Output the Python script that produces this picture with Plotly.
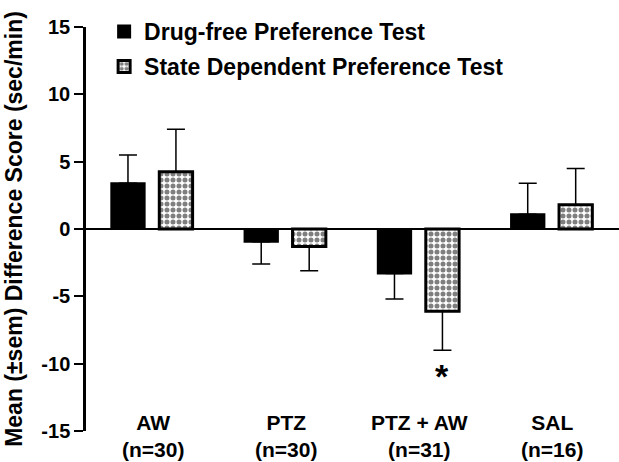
import plotly.graph_objects as go

categories = ["AW", "PTZ", "PTZ + AW", "SAL"]
n_labels = ["(n=30)", "(n=30)", "(n=31)", "(n=16)"]
series_names = ["Drug-free Preference Test", "State Dependent Preference Test"]
drug_free = [3.4, -0.95, -3.3, 1.1]
drug_free_sem = [2.1, 1.65, 1.9, 2.3]
state_dep = [4.25, -1.3, -6.1, 1.8]
state_dep_sem = [3.15, 1.8, 2.9, 2.7]
sig_marks = ["", "", "*", ""]
y_ticks = [-15, -10, -5, 0, 5, 10, 15]

FONT = "Liberation Sans, Arial, sans-serif"
BAR_W = 0.25
OFFSETS = [-0.31, 0.05]


def one_sided(vals, errs):
    up = [e if v >= 0 else 0 for v, e in zip(vals, errs)]
    dn = [e if v < 0 else 0 for v, e in zip(vals, errs)]
    return up, dn


fig = go.Figure()

up, dn = one_sided(drug_free, drug_free_sem)
fig.add_trace(go.Bar(
    x=categories, y=drug_free, name=series_names[0],
    width=BAR_W, offset=OFFSETS[0],
    marker=dict(color="black", line=dict(color="black", width=2)),
    error_y=dict(type="data", symmetric=False, array=up, arrayminus=dn,
                 color="black", thickness=1.5, width=9),
    legendgroup="a",
))

up, dn = one_sided(state_dep, state_dep_sem)
fig.add_trace(go.Bar(
    x=categories, y=state_dep, name=series_names[1],
    width=BAR_W, offset=OFFSETS[1],
    marker=dict(color="white", line=dict(color="black", width=3),
                pattern=dict(shape=".", fgcolor="black", bgcolor="white",
                             size=6, solidity=0.55, fillmode="overlay")),
    error_y=dict(type="data", symmetric=False, array=up, arrayminus=dn,
                 color="black", thickness=1.5, width=9),
    legendgroup="b",
))

annotations = []
for i, (c, n) in enumerate(zip(categories, n_labels)):
    annotations.append(dict(
        x=i, y=0, xref="x", yref="paper", text=f"{c}<br>{n}", showarrow=False,
        yanchor="middle", yshift=-5,
        font=dict(family=FONT, size=21, color="black", weight="bold"),
    ))
for i, m in enumerate(sig_marks):
    if m:
        annotations.append(dict(
            x=i + OFFSETS[1] + BAR_W / 2,
            y=state_dep[i] - state_dep_sem[i] - 1.9,
            xref="x", yref="y", text=m, showarrow=False,
            font=dict(family=FONT, size=34, color="black", weight="bold"),
        ))

fig.update_layout(
    width=619, height=462,
    margin=dict(l=86, r=0, t=27, b=31, autoexpand=False),
    paper_bgcolor="white", plot_bgcolor="white",
    font=dict(family=FONT, color="black"),
    barmode="overlay",
    showlegend=True,
    legend=dict(x=0.034, y=1.042, xanchor="left", yanchor="top",
                bgcolor="rgba(0,0,0,0)",
                font=dict(family=FONT, size=23, color="black", weight="bold"),
                traceorder="grouped", tracegroupgap=2, itemwidth=30),
    annotations=annotations,
)
fig.update_xaxes(
    type="category", range=[-0.5, 3.5], showticklabels=False,
    showline=False, showgrid=False, zeroline=False, ticks="",
)
fig.update_yaxes(
    automargin=False,
    range=[-15, 15], tickvals=y_ticks, ticktext=[str(t) for t in y_ticks],
    showline=True, linecolor="black", linewidth=2.5,
    ticks="outside", ticklen=9, tickwidth=2, tickcolor="black",
    showgrid=False, zeroline=True, zerolinecolor="black", zerolinewidth=2,
    tickfont=dict(family=FONT, size=20, color="black", weight="bold"),
    title=dict(text="Mean (±sem) Difference Score (sec/min)", standoff=13,
               font=dict(family=FONT, size=23, color="black", weight="bold")),
)

fig.write_html("out.html", config={"displayModeBar": False},
               post_script="document.body.style.margin='0';document.body.style.overflow='hidden';")
